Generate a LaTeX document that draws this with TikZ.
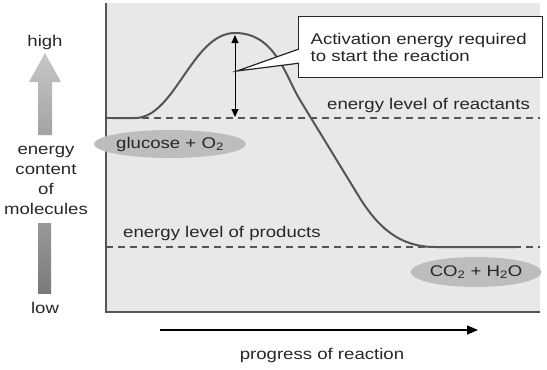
\documentclass[tikz,border=0pt]{standalone}
\usepackage{fontspec}
\setmainfont{Liberation Sans}[FakeStretch=1.2]
\usetikzlibrary{arrows.meta,calc,shapes.geometric}
\definecolor{panel}{HTML}{E8E8E8}
\definecolor{inkgray}{HTML}{262626}
\definecolor{linegray}{HTML}{555555}
\definecolor{blobgray}{HTML}{BDBDBD}
\tikzset{
  lbl/.style={text=inkgray,font=\fontsize{15.5}{17}\selectfont,inner sep=0pt},
  blob/.style={ellipse,fill=blobgray,inner sep=0pt,minimum width=124pt,minimum height=28pt,font=\fontsize{15.5}{17}\selectfont,text=inkgray},
  level/.style={draw=linegray,line width=1.2pt,dash pattern=on 7pt off 5pt}
}
\begin{document}
\begin{tikzpicture}[x=1pt,y=-1pt]
\useasboundingbox (0,0) rectangle (547,370);
% plot area
\fill[panel] (106,3) rectangle (540,312);
\draw[linegray,line width=1.5pt] (106,3)--(106,312)--(540,312);
% energy levels
\draw[level] (106,118)--(540,118);
\draw[level] (106,247)--(540,247);
\node[lbl,anchor=west] (reactants) at (327,105){energy level of reactants};
\node[lbl,anchor=west] (products) at (123,233){energy level of products};
% reaction curve
\draw[linegray,line width=2pt] (113,118)--(135,118)
  .. controls (175,118) and (192,33) .. (235,33)
  .. controls (275,33) and (285,75) .. (300,100)
  --(358,195)
  .. controls (378,228) and (400,247) .. (435,247)--(517,247);
% activation energy
\coordinate (peak) at (235,35);
\coordinate (base) at (235,117);
\draw[{Triangle[length=8pt,width=7pt]}-{Triangle[length=8pt,width=7pt]},black,line width=1pt] (peak)--(base);
\node[lbl,draw=inkgray,fill=white,line width=1.2pt,align=left,anchor=north west,minimum width=244pt,minimum height=61pt,text width=220pt,inner xsep=12pt,inner ysep=0pt] (callout) at (298,16){Activation energy required\\to start the reaction};
\coordinate (tip) at (237,71);
\coordinate (wedgetop) at ($(callout.north west)+(1,33)$);
\coordinate (wedgebot) at ($(callout.south west)+(1,-15)$);
\fill[white] (wedgetop)--(tip)--(wedgebot)--cycle;
\draw[inkgray,line width=1.2pt] (wedgetop)--(tip)--(wedgebot);
% molecules
\node[blob] (glucose) at (170,144){glucose + O\textsubscript{2}};
\node[blob,minimum width=102pt,minimum height=30pt] (water) at (476,272){CO\textsubscript{2} + H\textsubscript{2}O};
% y axis
\node[lbl] (high) at (45,42){high};
\shade[top color=black!22,bottom color=black!36] (38,135)--(38,82)--(29,82)--(45,53)--(61,82)--(52,82)--(52,135)--cycle;
\node[lbl,align=center,font=\fontsize{15.5}{20}\selectfont] (content) at (46,180){energy\\content\\of\\molecules};
\shade[top color=black!40,bottom color=black!52] (38,223) rectangle (51,293);
\node[lbl] (low) at (45,308){low};
% x axis
\coordinate (xstart) at (160,330);
\coordinate (xend) at (478,330);
\draw[-{Triangle[length=11pt,width=9pt]},black,line width=1.5pt] (xstart)--(xend);
\node[lbl] (progress) at (322,355){progress of reaction};
\end{tikzpicture}
\end{document}
